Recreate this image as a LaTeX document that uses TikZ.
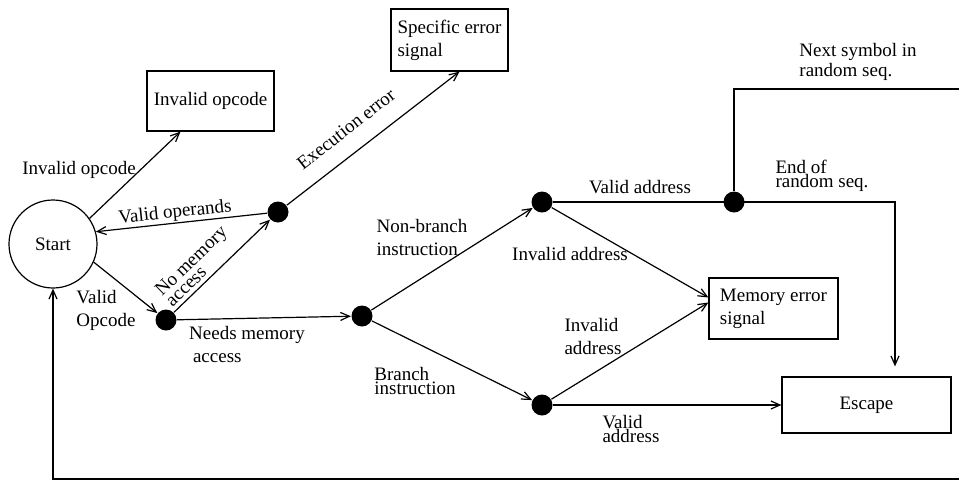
\documentclass[tikz,border=0pt]{standalone}
\usepackage{fontspec}
\setmainfont{Liberation Serif}
\usetikzlibrary{arrows, arrows.meta, positioning, calc}

\begin{document}
\begin{tikzpicture}[>={Straight Barb[length=4.5pt,width=4pt]}, x=0.5pt, y=-0.5pt, line width=0.6pt,
    font=\fontsize{9.5}{11.5}\selectfont,
    box/.style={draw, rectangle, inner sep=0pt},
    dot/.style={circle, fill=black, inner sep=0pt, minimum size=10.5pt},
    lbl/.style={inner sep=0pt},
    tight/.style={inner sep=0pt, align=left, font=\fontsize{9.5}{7}\selectfont}]
    \useasboundingbox (0,0) rectangle (959,483);

    % states
    \node[circle, draw, minimum size=44pt, inner sep=0pt] (start) at (53,244) {Start};
    \node[box, minimum width=63.5pt, minimum height=30pt] (inv) at (210.5,101) {Invalid opcode};
    \node[box, minimum width=58.5pt, minimum height=31pt, align=left] (spec) at (449.5,40) {Specific error\\signal};
    \node[box, minimum width=64.5pt, minimum height=30.5pt, align=left] (mem) at (773.5,308.5) {Memory error\\signal};
    \node[box, minimum width=84.5pt, minimum height=28pt] (esc) at (866.5,405) {Escape};

    % decision points
    \node[dot] (d-exec) at (278,212) {};
    \node[dot] (d-op) at (166,320) {};
    \node[dot] (d-mem) at (362,316) {};
    \node[dot] (d-nb) at (542,202) {};
    \node[dot] (d-br) at (542,405) {};
    \node[dot] (d-rnd) at (734,202) {};

    \coordinate (c-turn) at (895,202);
    \coordinate (c-top) at (959,89);
    \coordinate (c-bot) at (959,479);

    \draw[->] (start.35) -- ([xshift=-15pt]inv.south);
    \draw[->] (d-exec) -- (start.16);
    \draw[->] (d-exec) -- ([xshift=5pt]spec.south);
    \draw[->] (start.-24) -- (d-op);
    \draw[->] (d-op) -- (d-exec);
    \draw[->] (d-op) -- (d-mem);
    \draw[->] (d-mem) -- (d-nb);
    \draw[->] (d-mem) -- (d-br);
    \draw[->] (d-nb) -- ([yshift=5.5pt]mem.west);
    \draw[->] (d-br) -- ([yshift=3pt]mem.west);
    \draw[->] (d-br) -- (esc);
    \draw[->] (d-nb) -- (c-turn) -- ([yshift=5pt]esc.north -| c-turn);
    \draw (d-rnd) |- (c-top);
    \draw[->] (c-bot) -| (start);

    % labels
    \node[lbl] (l-inv) at (79,170) {Invalid opcode};
    \node[lbl, rotate=6] (l-vop) at (175,213) {Valid operands};
    \node[lbl, rotate=38] (l-exec) at (346,129) {Execution error};
    \node[tight, rotate=44, font=\fontsize{9.5}{7.5}\selectfont] (l-nomem) at (196,266) {No memory\\access};
    \node[lbl, align=left] (l-vopc) at (106,310) {Valid\\Opcode};
    \node[lbl, align=left] (l-needs) at (247,344) {Needs memory\\\hspace{0.2em}access};
    \node[lbl, align=left] (l-nb) at (422,237) {Non-branch\\instruction};
    \node[tight] (l-br) at (415,381) {Branch\\instruction};
    \node[lbl] (l-inva1) at (570,254) {Invalid address};
    \node[lbl, align=left] (l-inva2) at (593,336) {Invalid\\address};
    \node[lbl] (l-va1) at (640,187) {Valid address};
    \node[tight] (l-va2) at (631,429) {Valid\\address};
    \node[tight] (l-end) at (822,176) {End of\\random seq.};
    \node[tight] (l-next) at (858,62) {Next symbol in\\random seq.};

\end{tikzpicture}
\end{document}
